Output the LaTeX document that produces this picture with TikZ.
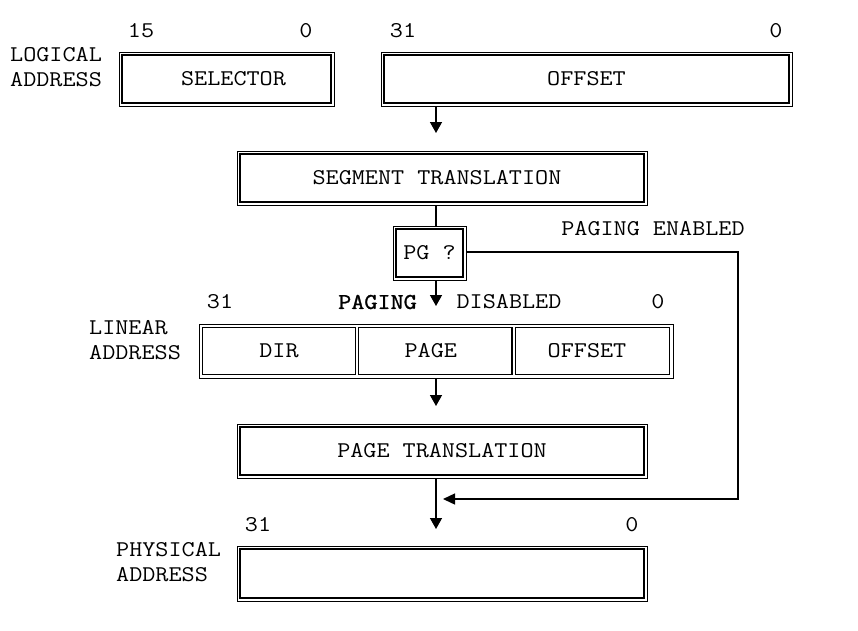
\documentclass[tikz,border=0pt]{standalone}
\usepackage{fontspec}
\setmainfont{Latin Modern Mono}[FakeStretch=1.13]
\newfontfamily\boldmono{Latin Modern Mono}[FakeStretch=1.13, FakeBold=1.2]
\usetikzlibrary{arrows.meta}
\newcommand\innerrect[1]{\draw[innerline] ([xshift=3.5pt,yshift=-3.5pt]#1.north west) rectangle ([xshift=-3.5pt,yshift=3.5pt]#1.south east);}
\begin{document}
\begin{tikzpicture}[x=1pt,y=-1pt,
  every node/.style={font=\fontsize{22.5}{25}\selectfont, inner sep=0pt},
  outerbox/.style={draw, line width=0.9pt, minimum height=54pt, minimum width=#1},
  innerline/.style={draw, line width=1.8pt},
  cellbox/.style={draw, line width=1.8pt, minimum height=47pt, minimum width=#1},
  conn/.style={line width=1.4pt},
  tip/.style={line width=1.4pt, -{Triangle[width=12pt,length=11pt]}},
  lbl/.style={anchor=west, align=left},
]
\useasboundingbox (0,0) rectangle (858,630);

% logical address
\node[lbl] (lla) at (10,67) {LOGICAL\\ADDRESS};
\node (n15) at (141,31) {15};
\node (n0a) at (306,31) {0};
\node (n31a) at (403,31) {31};
\node (n0b) at (776,31) {0};
\node[outerbox=215pt] (sel) at (226.5,79) {\hspace*{14pt}SELECTOR};
\innerrect{sel}
\node[outerbox=411pt] (off) at (586.5,79) {OFFSET};
\innerrect{off}

% segment translation
\node[outerbox=410pt] (seg) at (442,178) {SEGMENT TRANSLATION\hspace*{10pt}};
\innerrect{seg}
\coordinate (a1) at (436,133);
\draw[tip] (off.south -| a1) -- (a1);

% PG ?
\node[outerbox=73pt] (pg) at (429.5,253) {PG ?};
\innerrect{pg}
\draw[conn] (seg.south -| a1) -- (pg.north -| a1);
\node (pen) at (653,229) {PAGING ENABLED};

% linear address
\node (n31b) at (220,302) {31};
\node[font=\fontsize{22.5}{25}\boldmono] (pd1) at (377.5,302) {PAGING};
\node (pd2) at (509,302) {DISABLED};
\node (n0c) at (658,302) {0};
\coordinate (a2) at (436,306);
\draw[tip] (pg.south -| a2) -- (a2);

\node[lbl] (lin) at (89,340) {LINEAR\\ADDRESS};
\node[draw, line width=0.9pt, minimum width=474pt, minimum height=54pt] (lbox) at (436,351) {};
\node[cellbox=153pt] (dir) at (279,351) {DIR};
\node[cellbox=153.5pt] (page) at (435.25,351) {PAGE\hspace*{9pt}};
\node[cellbox=154pt] (loff) at (592.5,351) {OFFSET\hspace*{11pt}};

% page translation
\coordinate (a3) at (436,406);
\draw[tip] (lbox.south -| a3) -- (a3);
\node[outerbox=410pt] (pt) at (442,451) {PAGE TRANSLATION};
\innerrect{pt}

% physical
\coordinate (a4) at (436,529);
\draw[tip] (pt.south -| a4) -- (a4);
\coordinate (c1) at (738,252);
\coordinate (c2) at (738,499);
\coordinate (a5) at (443,499);
\draw[conn, -{Triangle[width=11pt,length=12pt]}] (pg.east |- c1) -- (c1) -- (c2) -- (a5);

\node (n31c) at (258,525) {31};
\node (n0d) at (632,525) {0};
\node[lbl] (pa) at (116,562) {PHYSICAL\\ADDRESS};
\node[outerbox=410pt, minimum height=55pt] (phy) at (442,573.5) {};
\innerrect{phy}
\end{tikzpicture}
\end{document}
